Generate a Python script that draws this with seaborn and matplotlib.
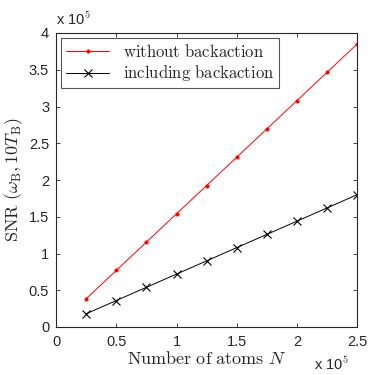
import numpy as np
import matplotlib
matplotlib.use("Agg")
import matplotlib.pyplot as plt
import seaborn as sns

# atoms N (x 1e5) and SNR (x 1e5)
n_atoms = [0.25, 0.5, 0.75, 1.0, 1.25, 1.5, 1.75, 2.0, 2.25, 2.5]
snr_without = [0.385, 0.77, 1.155, 1.54, 1.925, 2.31, 2.695, 3.08, 3.465, 3.85]
snr_with = [0.18, 0.36, 0.54, 0.72, 0.90, 1.08, 1.26, 1.44, 1.62, 1.80]

sns.set_style("ticks")
plt.rcParams["font.family"] = ["Liberation Sans", "DejaVu Sans"]
plt.rcParams["mathtext.fontset"] = "cm"
plt.rcParams["xtick.direction"] = "in"
plt.rcParams["ytick.direction"] = "in"

fig = plt.figure(figsize=(3.74, 3.75), dpi=100)
ax = fig.add_axes([0.150, 0.128, 0.805, 0.784])

sns.lineplot(x=n_atoms, y=snr_without, ax=ax, color="red", lw=0.7,
             marker="o", markersize=2.2, markeredgecolor="red",
             label=r"$\mathrm{without\ backaction}$")
sns.lineplot(x=n_atoms, y=snr_with, ax=ax, color="black", lw=0.7,
             marker="x", markersize=6, markeredgecolor="black", markeredgewidth=0.8,
             label=r"$\mathrm{including\ backaction}$")

ax.set_xlim(0, 2.5)
ax.set_ylim(0, 4)
ax.set_xticks([0, 0.5, 1, 1.5, 2, 2.5])
ax.set_xticklabels(["0", "0.5", "1", "1.5", "2", "2.5"])
ax.set_yticks([0, 0.5, 1, 1.5, 2, 2.5, 3, 3.5, 4])
ax.set_yticklabels(["0", "0.5", "1", "1.5", "2", "2.5", "3", "3.5", "4"])
ax.tick_params(labelsize=10.5, length=3, width=0.6, top=True, right=True)
ax.tick_params(axis="x", pad=6)
ax.tick_params(axis="y", pad=5)
for s in ax.spines.values():
    s.set_linewidth(0.8)
    s.set_visible(True)

ax.set_xlabel(r"$\mathrm{Number\ of\ atoms}\ N$", fontsize=13, labelpad=1)
ax.set_ylabel(r"$\mathrm{SNR}\ (\omega_{\mathrm{B}},10T_{\mathrm{B}})$", fontsize=13, labelpad=3)

fig.text(0.150, 0.925, r"x 10$^5$", fontsize=10.5, ha="left", va="bottom")
fig.text(0.932, 0.004, r"x 10$^5$", fontsize=10.5, ha="right", va="bottom")

leg = ax.legend(loc="upper left", fontsize=12, frameon=True, fancybox=False,
                edgecolor="#555555", framealpha=1, borderaxespad=0.3,
                handlelength=2.6, borderpad=0.3, labelspacing=0.2)
leg.get_frame().set_linewidth(0.8)

fig.savefig("out.png", dpi=100)
